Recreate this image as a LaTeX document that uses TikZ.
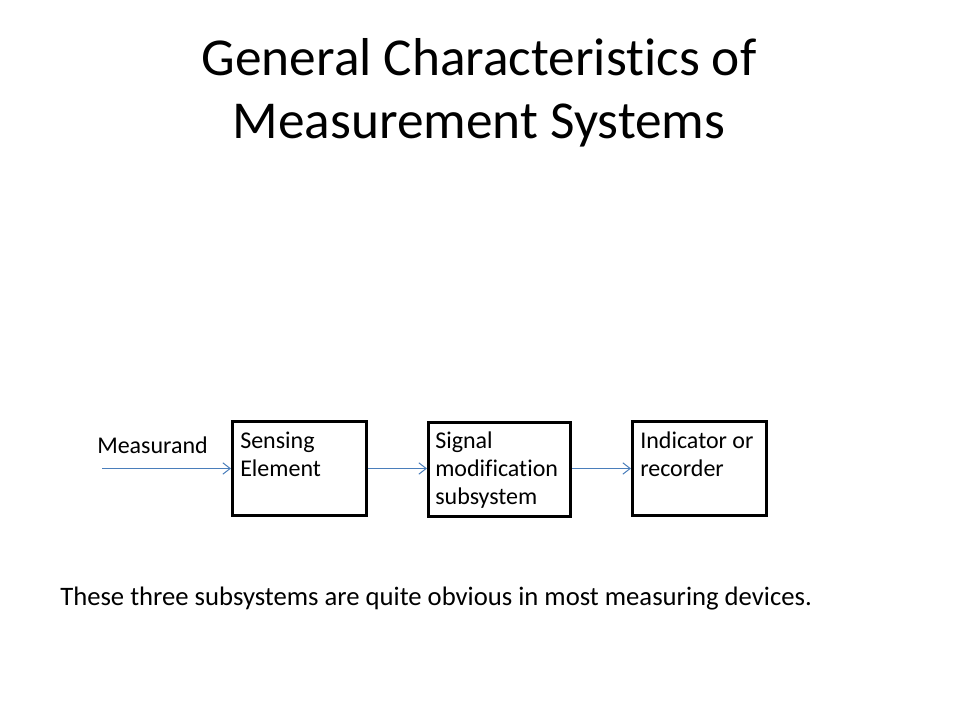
\documentclass[tikz,border=0pt]{standalone}
\usepackage{fontspec}
\setmainfont[Ligatures=NoCommon]{Carlito}
\usetikzlibrary{arrows.meta}
\definecolor{arrowblue}{HTML}{4A7EBB}
\tikzset{
  px/.style={x=0.75bp,y=-0.75bp},
  boxst/.style={draw=black, line width=2.25bp, minimum width=100.5bp, minimum height=70.5bp, inner sep=0pt},
  wide/.style={minimum width=106.5bp},
  lbl/.style={font=\fontsize{18bp}{21bp}\selectfont, align=left, anchor=base west, inner sep=0pt},
  conn/.style={draw=arrowblue, line width=0.75bp, -{Straight Barb[length=5.5bp,width=8.5bp]}},
  titlest/.style={font=\fontsize{40bp}{47.25bp}\selectfont, anchor=base, inner sep=0pt},
  bodyst/.style={font=\fontsize{20bp}{24bp}\selectfont, anchor=base west, inner sep=0pt}
}
\begin{document}
\begin{tikzpicture}[px]
\useasboundingbox (0,0) rectangle (960,720);
\node[titlest] (t1) at (479,75) {General Characteristics of};
\node[titlest] (t2) at (479,138) {Measurement Systems};
\node[boxst] (b1) at (299.5,468.5) {};
\node[boxst,wide] (b2) at (499.5,469.5) {};
\node[boxst] (b3) at (699.5,468.5) {};
% multi-line labels: base anchor is the baseline of the last line
\node[lbl] (l1) at (240,476) {Sensing\\Element};
\node[lbl] (l2) at (435,504) {Signal\\modification\\subsystem};
\node[lbl] (l3) at (640,476) {Indicator or\\recorder};
\node[lbl] (m) at (97,453) {Measurand};
\coordinate (m0) at (102,468.5);
\draw[conn] (m0) -- (b1.west);
\draw[conn] (b1.east) -- (b1.east -| b2.west);
\draw[conn] (b2.east |- b3.west) -- (b3.west);
\node[bodyst] (s) at (60,605) {These three subsystems are quite obvious in most measuring devices.};
\end{tikzpicture}
\end{document}
